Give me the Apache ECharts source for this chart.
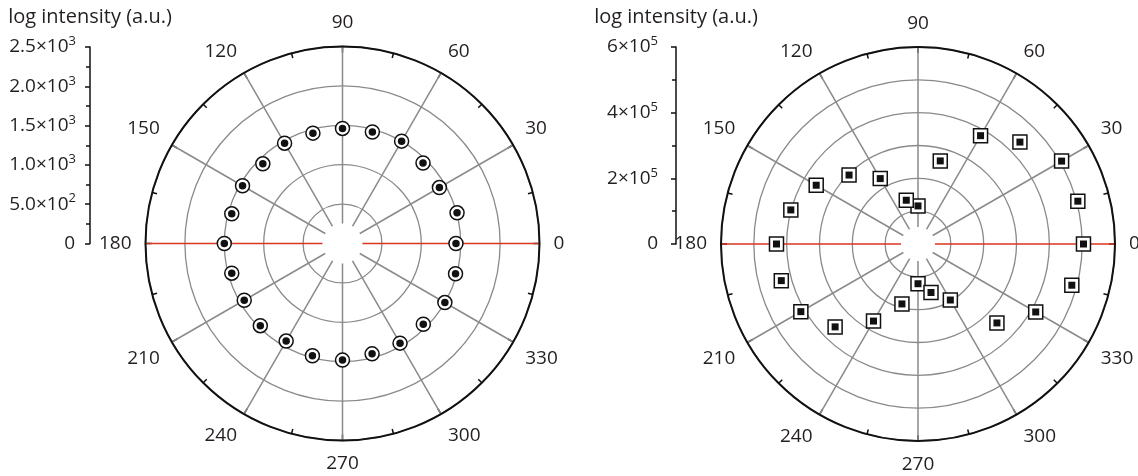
<!DOCTYPE html>
<html><head><meta charset="utf-8">
<script src="https://cdn.jsdelivr.net/npm/echarts@6/dist/echarts.min.js"></script>
<style>html,body{margin:0;padding:0;background:#fff}#c{width:1138px;height:476px}</style>
</head><body><div id="c"></div>
<script>
// ---- data ----
const angleDeg = [0,15,30,45,60,75,90,105,120,135,150,165,180,195,210,225,240,255,270,285,300,315,330,345];
const leftIntensity = [1440,1505,1420,1445,1500,1465,1460,1450,1470,1430,1465,1455,1500,1455,1440,1475,1430,1475,1480,1450,1460,1450,1500,1485];
const rightIntensity = [504000,504000,505000,439000,381000,262000,116000,138000,230000,297000,358000,401000,431000,431000,412000,357000,271000,189000,121000,153000,197000,340000,414000,485000];
const leftTickValues = [0,500,1000,1500,2000,2500];
const leftTickBase = ['0','5.0×10','1.0×10','1.5×10','2.0×10','2.5×10'];
const leftTickExp = ['','2','3','3','3','3'];
const rightTickValues = [0,200000,400000,600000];
const rightTickBase = ['0','2×10','4×10','6×10'];
const rightTickExp = ['','5','5','5'];
const axisTitle = 'log intensity (a.u.)';

const FONT = 'Open Sans';
const TXT = '#231f20';
const GRAY = '#8a8a8a';
const RED = '#d8341f';

const chart = echarts.init(document.getElementById('c'));

function tickFormatter(values, bases, exps) {
  return function (v) {
    const i = values.indexOf(v);
    if (i < 0) return '';
    return '{m|' + bases[i] + '}' + (exps[i] ? '{s|' + exps[i] + '}' : '{e|}');
  };
}
function richLabels(padZero) {
  return {
    m: { fontFamily: FONT, fontSize: 19, color: TXT, lineHeight: 24 },
    s: { fontFamily: FONT, fontSize: 13, color: TXT, lineHeight: 24, verticalAlign: 'top', padding: [0, 0, 9, 0] },
    e: { width: padZero, lineHeight: 24 }
  };
}

function splitColors() {
  return [RED, GRAY, GRAY, GRAY, GRAY, GRAY, RED, GRAY, GRAY, GRAY, GRAY, GRAY];
}

function angleAxis(idx) {
  return {
    polarIndex: idx, type: 'value', min: 0, max: 360, interval: 30,
    startAngle: 0, clockwise: false,
    axisLine: { show: true, lineStyle: { color: '#111', width: 2 } },
    axisTick: { show: true, inside: true, length: 6, lineStyle: { color: '#111', width: 1.5 } },
    minorTick: { show: true, splitNumber: 2, length: 5, lineStyle: { color: '#111', width: 1.5 } },
    splitLine: { show: true, lineStyle: { color: splitColors(), width: 1.5 } },
    axisLabel: { show: true, margin: 14, fontFamily: FONT, fontSize: 19, color: TXT,
      formatter: v => (v === 360 ? '' : String(v)) }
  };
}
function radiusAxis(idx, max, step) {
  return {
    polarIndex: idx, type: 'value', min: 0, max: max, interval: step,
    axisLine: { show: false }, axisTick: { show: false }, axisLabel: { show: false },
    splitLine: { show: true, lineStyle: { color: GRAY, width: 1.3 } }
  };
}
function yAxis(idx, max, step, values, bases, exps, margin, padZero) {
  return {
    gridIndex: idx, type: 'value', min: 0, max: max, interval: step,
    name: axisTitle, nameLocation: 'end', nameGap: 20,
    nameTextStyle: { fontFamily: FONT, fontSize: 20, color: TXT },
    axisLine: { show: true, lineStyle: { color: '#111', width: 1.5 } },
    axisTick: { show: true, inside: false, length: 5, lineStyle: { color: '#111', width: 1.5 } },
    minorTick: { show: true, splitNumber: 2, length: 4, lineStyle: { color: '#111', width: 1.5 } },
    splitLine: { show: false },
    axisLabel: { margin: margin, formatter: tickFormatter(values, bases, exps), rich: richLabels(padZero) }
  };
}
function markers(idx, values, shape, outer, inner) {
  const data = values.map((v, i) => [v, angleDeg[i]]);
  return [
    { type: 'scatter', coordinateSystem: 'polar', polarIndex: idx, data: data, symbol: shape, symbolSize: outer,
      itemStyle: { color: '#fff', borderColor: '#111', borderWidth: 1.5, opacity: 1 }, z: 3, silent: true },
    { type: 'scatter', coordinateSystem: 'polar', polarIndex: idx, data: data, symbol: shape, symbolSize: inner,
      itemStyle: { color: '#111', opacity: 1 }, z: 4, silent: true }
  ];
}

const C1 = [342.5, 243.5], C2 = [918, 244], R = 197;

chart.setOption({
  animation: false,
  backgroundColor: '#fff',
  polar: [ { center: C1, radius: R }, { center: C2, radius: R } ],
  angleAxis: [ angleAxis(0), angleAxis(1) ],
  radiusAxis: [ radiusAxis(0, 2500, 500), radiusAxis(1, 600000, 100000) ],
  grid: [
    { left: 90, top: 47, width: 1, height: 196.5 },
    { left: 676, top: 47, width: 1, height: 197 }
  ],
  xAxis: [ { gridIndex: 0, type: 'value', show: false }, { gridIndex: 1, type: 'value', show: false } ],
  yAxis: [
    yAxis(0, 2500, 500, leftTickValues, leftTickBase, leftTickExp, 14, 1),
    yAxis(1, 600000, 200000, rightTickValues, rightTickBase, rightTickExp, 18, 0)
  ],
  graphic: [
    { type: 'circle', shape: { cx: C1[0], cy: C1[1], r: 20 }, style: { fill: '#fff' }, z: 100, silent: true },
    { type: 'circle', shape: { cx: C2[0], cy: C2[1], r: 17 }, style: { fill: '#fff' }, z: 100, silent: true }
  ],
  series: [].concat(
    markers(0, leftIntensity, 'circle', 14, 7.5),
    markers(1, rightIntensity, 'rect', 14, 7)
  )
});
</script></body></html>
